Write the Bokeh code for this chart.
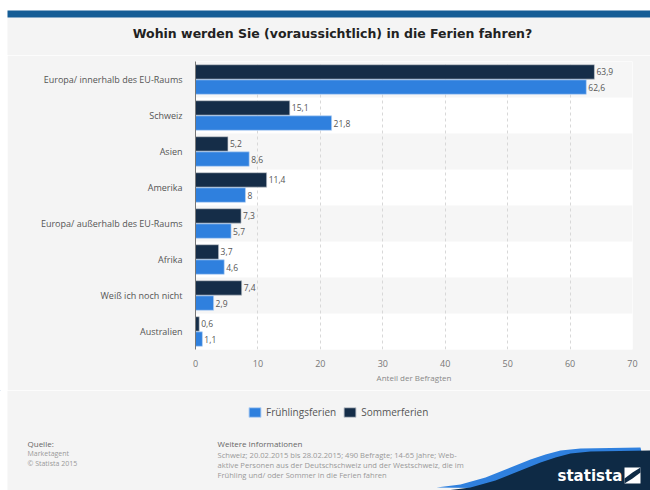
from bokeh.plotting import figure
from bokeh.layouts import column, row
from bokeh.models import (ColumnDataSource, FactorRange, Range1d, LabelSet, Label,
                          Legend, LegendItem, FixedTicker, Spacer)
from bokeh.core.properties import value
from bokeh.transform import dodge
from bokeh.embed import file_html
from bokeh.resources import INLINE

# ---------------- data ----------------
categories = ["Europa/ innerhalb des EU-Raums", "Schweiz", "Asien", "Amerika",
              "Europa/ außerhalb des EU-Raums", "Afrika", "Weiß ich noch nicht", "Australien"]
fruehlingsferien = [62.6, 21.8, 8.6, 8, 5.7, 4.6, 2.9, 1.1]
sommerferien = [63.9, 15.1, 5.2, 11.4, 7.3, 3.7, 7.4, 0.6]
x_ticks = [0, 10, 20, 30, 40, 50, 60, 70]
series_names = ["Frühlingsferien", "Sommerferien"]

title_text = "Wohin werden Sie (voraussichtlich) in die Ferien fahren?"
x_label = "Anteil der Befragten"
source_lines = ["Quelle:", "Marketagent", "© Statista 2015"]
info_lines = ["Weitere Informationen",
              "Schweiz; 20.02.2015 bis 28.02.2015; 490 Befragte; 14-65 Jahre; Web-",
              "aktive Personen aus der Deutschschweiz und der Westschweiz, die im",
              "Frühling und/ oder Sommer in die Ferien fahren"]

BLUE = "#2f80de"
NAVY = "#152d48"
GREY_BG = "#f4f4f4"
FONT = "Open Sans"


def de(v):
    return ("%g" % v).replace(".", ",")


def canvas_fig(w, h, x0, y0):
    """A figure whose frame is its whole canvas, in page pixel coordinates."""
    f = figure(width=w, height=h, x_range=Range1d(x0, x0 + w), y_range=Range1d(y0 + h, y0),
               x_axis_type=None, y_axis_type=None, output_backend="svg",
               toolbar_location=None, min_border=0)
    f.outline_line_color = None
    f.background_fill_color = GREY_BG
    f.border_fill_color = GREY_BG
    f.xgrid.visible = False
    f.ygrid.visible = False
    return f


# ---------------- header ----------------
HH = 55
head = canvas_fig(650, HH, 0, 0)
head.background_fill_color = "#ffffff"
head.quad(left=7, right=650, top=17, bottom=HH, fill_color=GREY_BG, line_color=None)
head.quad(left=7, right=650, top=10, bottom=17, fill_color="#155d96", line_color=None)
head.add_layout(Label(x=332, y=33, text=title_text, text_align="center",
                      text_baseline="middle", text_font="DejaVu Sans",
                      text_font_style="bold", text_font_size="12.5px",
                      text_color="#222222"))

# ---------------- main chart ----------------
MW, MH = 643, 335   # page x 7..650, y 55..390
p = figure(width=MW, height=MH, y_range=FactorRange(*reversed(categories)),
           x_range=Range1d(x_ticks[0], x_ticks[-1]), output_backend="svg",
           toolbar_location=None, min_border_left=188, min_border_right=18,
           min_border_top=6, min_border_bottom=41)
p.border_fill_color = GREY_BG
p.background_fill_color = "#ffffff"
p.outline_line_color = None

src = ColumnDataSource(dict(cat=categories, f=fruehlingsferien, s=sommerferien,
                            fl=[de(v) for v in fruehlingsferien],
                            sl=[de(v) for v in sommerferien]))

# alternating row bands
p.hbar(y=categories[0::2], left=x_ticks[0], right=x_ticks[-1], height=1,
       fill_color="#f6f6f6", line_color=None, level="image")

r_s = p.hbar(y=dodge("cat", 0.21, range=p.y_range), right="s", left=0, height=0.4,
             source=src, fill_color=NAVY, line_color="#c8ccd2", line_width=0.6)
r_f = p.hbar(y=dodge("cat", -0.21, range=p.y_range), right="f", left=0, height=0.4,
             source=src, fill_color=BLUE, line_color="#b9d3f3", line_width=0.6)

for col, off in (("s", 0.21), ("f", -0.21)):
    p.add_layout(LabelSet(x=col, y=dodge("cat", off, range=p.y_range), text=col + "l",
                          source=src, x_offset=2, text_baseline="middle",
                          text_font=value(FONT), text_font_size="8.5px",
                          text_color="#555555"))

p.xaxis.ticker = FixedTicker(ticks=x_ticks)
p.xaxis.axis_line_color = None
p.xaxis.major_tick_line_color = None
p.xaxis.minor_tick_line_color = None
p.xaxis.major_label_text_font = FONT
p.xaxis.major_label_text_font_size = "9px"
p.xaxis.major_label_text_color = "#777777"
p.xaxis.major_label_standoff = 4
p.xaxis.axis_label = x_label
p.xaxis.axis_label_text_font = FONT
p.xaxis.axis_label_text_font_size = "8px"
p.xaxis.axis_label_text_font_style = "normal"
p.xaxis.axis_label_text_color = "#888888"
p.xaxis.axis_label_standoff = 2

p.yaxis.axis_line_color = "#777777"
p.yaxis.major_tick_line_color = None
p.yaxis.minor_tick_line_color = None
p.yaxis.major_label_text_font = FONT
p.yaxis.major_label_text_font_size = "9px"
p.yaxis.major_label_text_color = "#555555"
p.yaxis.major_label_standoff = 7

p.xgrid.ticker = FixedTicker(ticks=x_ticks[1:])
p.xgrid.grid_line_color = "#d8d8d8"
p.xgrid.grid_line_dash = "3 3"
p.ygrid.visible = False

# ---------------- footer ----------------
FW, FH = 650, 100   # page x 0..650, y 390..490
foot = canvas_fig(FW, FH, 0, 390)
foot.background_fill_color = "#ffffff"
foot.quad(left=7, right=650, top=390, bottom=490, fill_color=GREY_BG, line_color=None)

# legend proxies (same styling as the bars), placed off-canvas
lf = foot.hbar(y=[-999], right=[0], left=[-1], height=1, fill_color=BLUE, line_color="#b9d3f3")
ls = foot.hbar(y=[-999], right=[0], left=[-1], height=1, fill_color=NAVY, line_color="#c8ccd2")
legend = Legend(items=[LegendItem(label=series_names[0], renderers=[lf]),
                       LegendItem(label=series_names[1], renderers=[ls])],
                orientation="horizontal", location=(247, 71),
                background_fill_alpha=0, border_line_color=None,
                glyph_width=15, glyph_height=12, label_text_font=FONT,
                label_text_font_size="10px", label_text_color="#555555",
                spacing=6, padding=0, margin=0, label_standoff=4,
                label_height=12)
foot.add_layout(legend, "center")

for i, t in enumerate(source_lines):
    foot.add_layout(Label(x=27, y=443 + 10 * i, text=t,
                          text_baseline="middle", text_font=FONT,
                          text_font_size="8px" if i == 0 else "7px",
                          text_color="#666666" if i == 0 else "#999999"))
for i, t in enumerate(info_lines):
    foot.add_layout(Label(x=217, y=443 + (0 if i == 0 else 1 + 10 * i), text=t,
                          text_baseline="middle", text_font=FONT,
                          text_font_size="8px" if i == 0 else "7.6px",
                          text_color="#666666" if i == 0 else "#999999"))

# statista wave + logo
wave_x = [446, 470, 495, 520, 540, 555, 570, 590, 650, 650]
wave_y = [490, 487, 480, 470, 462, 457, 453, 451, 450, 490]
foot.patch([x - 10 for x in wave_x[:-1]] + [650], [y - 3 for y in wave_y[:-1]] + [490],
           fill_color=BLUE, line_color=None)
foot.patch(wave_x, wave_y, fill_color="#0e2a45", line_color=None)
foot.add_layout(Label(x=557, y=475, text="statista", text_baseline="middle",
                      text_font="DejaVu Sans", text_font_style="bold",
                      text_font_size="15px", text_color="#ffffff"))
foot.quad(left=624, right=640, top=467, bottom=483, fill_color="#ffffff", line_color=None)
foot.patch([624, 624, 632, 640, 640, 632], [483, 478, 472, 467, 472, 478],
           fill_color="#0e2a45", line_color=None)

layout = column(head, row(Spacer(width=7, height=MH), p, spacing=0), foot, spacing=0)

open("out.html", "w").write(file_html(layout, INLINE))
